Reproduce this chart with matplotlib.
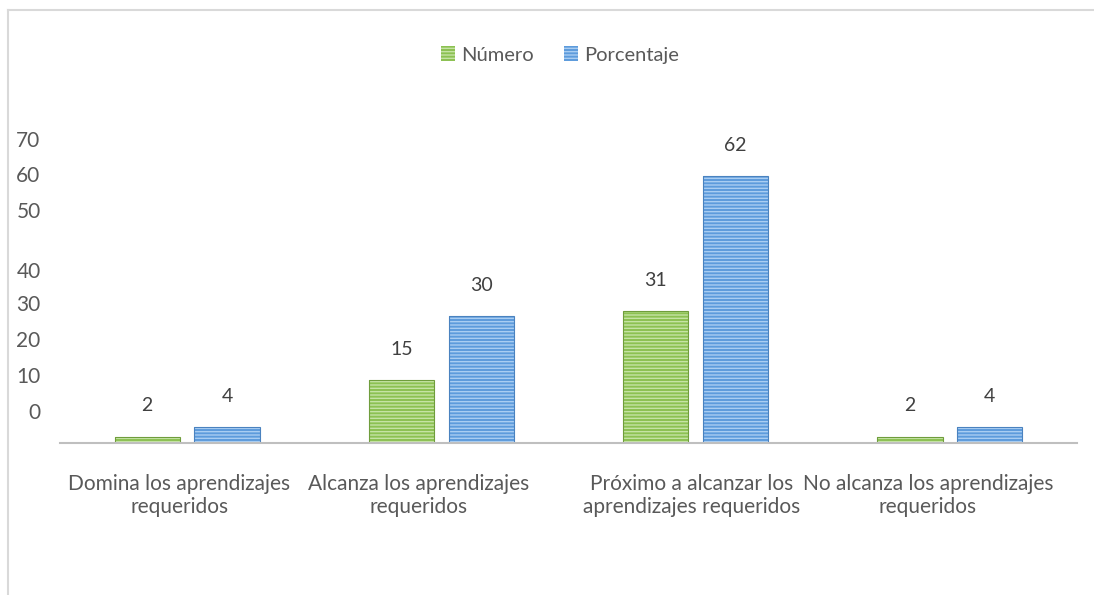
import numpy as np
import matplotlib.pyplot as plt
from matplotlib.lines import Line2D
from matplotlib.transforms import ScaledTranslation

categories = ["Domina los aprendizajes\nrequeridos",
              "Alcanza los aprendizajes\nrequeridos",
              "Próximo a alcanzar los\naprendizajes requeridos",
              "No alcanza los aprendizajes\nrequeridos"]
numero = [2, 15, 31, 2]
porcentaje = [4, 30, 62, 4]
# bar heights as drawn in the picture (the printed labels differ a little)
numero_drawn = [1.5, 14.5, 30.5, 1.5]
porcentaje_drawn = [3.6, 29.5, 61.8, 3.6]
ytick_labels = ["0", "10", "20", "30", "40", "50", "60", "70"]
# the source image has its tick labels spaced unevenly
ytick_pos = [7.4, 15.7, 24.0, 32.3, 40.1, 53.9, 62.2, 70.3]
# horizontal shift of each category label, in pixels
label_shift = [-8, -23, -4, -22]

plt.rcParams['font.family'] = ['Lato', 'DejaVu Sans']
green = "#8cc152"
green_l = "#c5e3a4"
green_d = "#6f9d3c"
blue = "#5d9bdc"
blue_l = "#a9cdf2"
blue_d = "#4a82bf"
txt = "#595959"

fig = plt.figure(figsize=(10.94, 5.95), dpi=100)
ax = fig.add_axes([60 / 1094, 1 - 443 / 595, 1017 / 1094, (443 - 139.3) / 595])

x = np.arange(len(categories))
w = 0.256
off = 0.157
for xs, vals, lab, fc, hc, ec in [(x - off, numero_drawn, "Número", green, green_l, green_d),
                                  (x + off, porcentaje_drawn, "Porcentaje", blue, blue_l, blue_d)]:
    ax.bar(xs, vals, w, color=fc, edgecolor=hc, linewidth=0, hatch="-----", label=lab)
    ax.bar(xs, vals, w, fill=False, edgecolor=ec, linewidth=0.8)

for xs, vals, labels in [(x - off, numero_drawn, numero), (x + off, porcentaje_drawn, porcentaje)]:
    for xi, v, l in zip(xs, vals, labels):
        ax.annotate(str(l), (xi, v), xytext=(0, 22), textcoords="offset points",
                    ha="center", va="center", fontsize=14, color="#404040")

ax.set_xlim(-0.5, 3.5)
ax.set_ylim(0, 70)
ax.set_yticks(ytick_pos)
ax.set_yticklabels(ytick_labels, fontsize=15, color=txt)
ax.set_xticks(x)
ax.set_xticklabels(categories, fontsize=15, color=txt, linespacing=1.2)
ax.tick_params(axis="y", length=0, pad=14)
ax.tick_params(axis="x", length=0, pad=22)
for t, dx in zip(ax.get_xticklabels(), label_shift):
    t.set_transform(t.get_transform() + ScaledTranslation(dx / 100, 0, fig.dpi_scale_trans))
for s in ["top", "right", "left"]:
    ax.spines[s].set_visible(False)
ax.spines["bottom"].set_color("#bfbfbf")
ax.spines["bottom"].set_linewidth(1.5)

handles, labels = ax.get_legend_handles_labels()
fig.legend(handles, labels, loc="center", bbox_to_anchor=(560 / 1094, 1 - 55 / 595), ncol=2,
           frameon=False, fontsize=14.5, labelcolor=txt, handlelength=0.7, handleheight=0.7,
           handletextpad=0.3, columnspacing=1.5)

fig.add_artist(Line2D([8 / 1094, 8 / 1094], [0, 1 - 10 / 595], transform=fig.transFigure,
                      color="#d9d9d9", linewidth=1.5))
fig.add_artist(Line2D([8 / 1094, 1], [1 - 10 / 595, 1 - 10 / 595], transform=fig.transFigure,
                      color="#d9d9d9", linewidth=1.5))

plt.savefig("out.png", dpi=100)
